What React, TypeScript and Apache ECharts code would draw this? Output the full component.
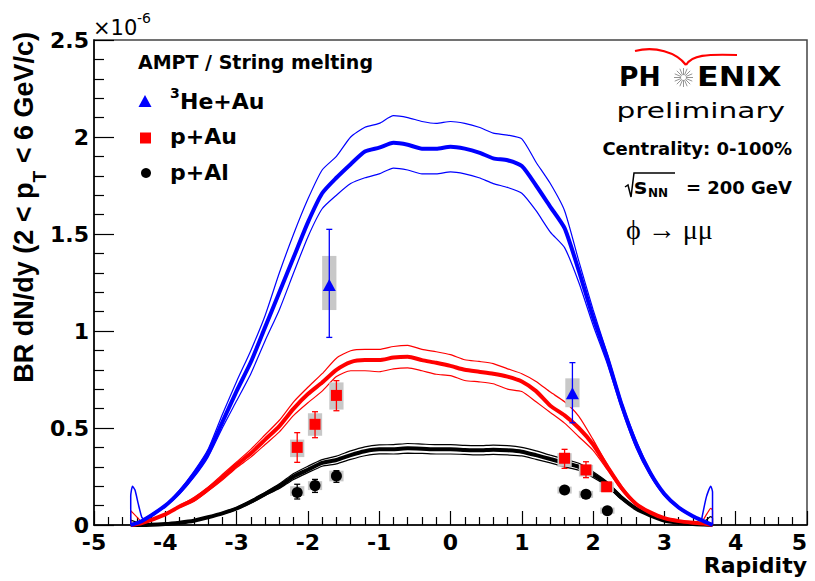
import React, { useEffect, useRef } from 'react';
import * as echarts from 'echarts';

// Rapidity grid of the AMPT model curves
const RAPIDITY = [-4.485, -4.33,
  -4.0, -3.8, -3.6, -3.4, -3.2, -3.0, -2.8, -2.6, -2.4, -2.2,
  -2.0, -1.8, -1.6, -1.4, -1.2, -1.0, -0.8, -0.6, -0.4, -0.2,
  0.0, 0.2, 0.4, 0.6, 0.8, 1.0, 1.2, 1.4, 1.6, 1.8,
  2.0, 2.2, 2.4, 2.6, 2.8, 3.0, 3.2, 3.4,
  3.55, 3.675];

// Values in units of 1e-6
const HE_CENTRAL = [0, 0.02,
  0.10, 0.17, 0.26, 0.37, 0.53, 0.69, 0.84, 1.02, 1.20, 1.38,
  1.56, 1.71, 1.79, 1.86, 1.925, 1.945, 1.97, 1.96, 1.94, 1.94,
  1.95, 1.94, 1.92, 1.89, 1.88, 1.85, 1.75, 1.64, 1.53, 1.31,
  1.07, 0.86, 0.62, 0.42, 0.27, 0.16, 0.09, 0.045,
  0.02, 0];
const HE_UPPER = [0, 0.025,
  0.105, 0.18, 0.275, 0.39, 0.57, 0.74, 0.90, 1.08, 1.30, 1.50,
  1.68, 1.83, 1.90, 2.00, 2.05, 2.07, 2.11, 2.10, 2.08, 2.07,
  2.08, 2.07, 2.05, 2.02, 2.01, 1.99, 1.87, 1.76, 1.62, 1.36,
  1.11, 0.88, 0.635, 0.44, 0.28, 0.165, 0.095, 0.048,
  0.022, 0];
const HE_LOWER = [0, 0.015,
  0.095, 0.16, 0.245, 0.35, 0.50, 0.64, 0.78, 0.95, 1.11, 1.30,
  1.485, 1.63, 1.70, 1.76, 1.79, 1.81, 1.84, 1.83, 1.81, 1.81,
  1.82, 1.81, 1.79, 1.76, 1.74, 1.71, 1.62, 1.51, 1.43, 1.25,
  1.03, 0.83, 0.60, 0.40, 0.255, 0.15, 0.085, 0.042,
  0.018, 0];

const PAU_CENTRAL = [0, 0.01,
  0.055, 0.095, 0.13, 0.185, 0.245, 0.31, 0.37, 0.44, 0.51, 0.60,
  0.675, 0.735, 0.80, 0.84, 0.85, 0.85, 0.863, 0.867, 0.85, 0.836,
  0.82, 0.80, 0.79, 0.78, 0.765, 0.74, 0.69, 0.615, 0.565, 0.50,
  0.415, 0.30, 0.19, 0.11, 0.065, 0.035, 0.02, 0.012,
  0.008, 0];
const PAU_UPPER = [0, 0.012,
  0.058, 0.10, 0.142, 0.195, 0.26, 0.325, 0.39, 0.465, 0.54, 0.635,
  0.71, 0.78, 0.86, 0.898, 0.905, 0.905, 0.92, 0.926, 0.905, 0.893,
  0.878, 0.852, 0.843, 0.832, 0.805, 0.78, 0.74, 0.685, 0.635, 0.56,
  0.44, 0.31, 0.20, 0.115, 0.068, 0.037, 0.021, 0.013,
  0.009, 0];
const PAU_LOWER = [0, 0.008,
  0.052, 0.09, 0.122, 0.175, 0.232, 0.295, 0.35, 0.415, 0.48, 0.565,
  0.63, 0.69, 0.765, 0.795, 0.795, 0.79, 0.805, 0.81, 0.795, 0.777,
  0.77, 0.745, 0.738, 0.728, 0.70, 0.688, 0.635, 0.58, 0.525, 0.455,
  0.385, 0.285, 0.18, 0.105, 0.06, 0.033, 0.019, 0.011,
  0.007, 0];

const PAL_CENTRAL = [0, 0,
  0.005, 0.012, 0.022, 0.04, 0.06, 0.085, 0.12, 0.16, 0.20, 0.25,
  0.285, 0.32, 0.335, 0.36, 0.38, 0.39, 0.39, 0.395, 0.393, 0.39,
  0.39, 0.387, 0.385, 0.388, 0.385, 0.378, 0.36, 0.34, 0.32, 0.30,
  0.26, 0.21, 0.14, 0.085, 0.05, 0.023, 0.012, 0.005,
  0.002, 0];
const PAL_UPPER = [0, 0,
  0.006, 0.013, 0.024, 0.043, 0.064, 0.09, 0.127, 0.168, 0.212, 0.265,
  0.303, 0.337, 0.355, 0.382, 0.403, 0.413, 0.414, 0.42, 0.417, 0.414,
  0.414, 0.41, 0.409, 0.412, 0.409, 0.40, 0.382, 0.36, 0.34, 0.318,
  0.275, 0.222, 0.148, 0.09, 0.053, 0.025, 0.013, 0.0055,
  0.002, 0];
const PAL_LOWER = [0, 0,
  0.004, 0.011, 0.02, 0.037, 0.056, 0.08, 0.113, 0.152, 0.188, 0.235,
  0.27, 0.303, 0.315, 0.338, 0.357, 0.367, 0.366, 0.37, 0.369, 0.366,
  0.366, 0.364, 0.361, 0.364, 0.361, 0.356, 0.338, 0.32, 0.30, 0.282,
  0.245, 0.198, 0.132, 0.08, 0.047, 0.021, 0.011, 0.0045,
  0.002, 0];

// Edge artefacts of the model bands
const HE_SPIKE_LEFT = [[-4.485, 0], [-4.485, 0.15], [-4.46, 0.2], [-4.425, 0.18], [-4.38, 0.11], [-4.33, 0.04], [-4.3, 0.03]];
const PAU_SPIKE_LEFT = [[-4.485, 0], [-4.485, 0.074], [-4.33, 0.015]];
const PAL_SPIKE_LEFT = [[-4.485, 0], [-4.485, 0.025], [-4.33, 0.005]];
const HE_SPIKE_RIGHT = [[3.52, 0.025], [3.59, 0.146], [3.65, 0.2], [3.675, 0.17], [3.675, 0]];
const PAU_SPIKE_RIGHT = [[3.52, 0.01], [3.6, 0.06], [3.65, 0.086], [3.675, 0.075], [3.675, 0]];
const PAL_SPIKE_RIGHT = [[3.52, 0.003], [3.6, 0.03], [3.65, 0.043], [3.675, 0.035], [3.675, 0]];

// Measured points
const HE_X = [-1.70, 1.71];
const HE_Y = [1.237, 0.679];
const HE_STAT_LO = [0.967, 0.527];
const HE_STAT_HI = [1.524, 0.837];
const HE_SYS_LO = [1.108, 0.607];
const HE_SYS_HI = [1.387, 0.756];

const PAU_X = [-2.15, -1.90, -1.60, 1.60, 1.90, 2.19];
const PAU_Y = [0.40, 0.519, 0.668, 0.344, 0.284, 0.197];
const PAU_STAT_LO = [0.323, 0.45, 0.589, 0.292, 0.244, 0.185];
const PAU_STAT_HI = [0.476, 0.584, 0.744, 0.39, 0.326, 0.21];
const PAU_SYS_LO = [0.35, 0.46, 0.595, 0.30, 0.25, 0.17];
const PAU_SYS_HI = [0.44, 0.576, 0.735, 0.37, 0.31, 0.22];

const PAL_X = [-2.15, -1.90, -1.60, 1.60, 1.90, 2.20];
const PAL_Y = [0.168, 0.203, 0.253, 0.18, 0.158, 0.074];
const PAL_STAT_LO = [0.134, 0.168, 0.22, 0.17, 0.148, 0.066];
const PAL_STAT_HI = [0.21, 0.235, 0.28, 0.19, 0.168, 0.082];
const PAL_SYS_LO = [0.15, 0.18, 0.225, 0.162, 0.14, 0.058];
const PAL_SYS_HI = [0.20, 0.226, 0.28, 0.198, 0.176, 0.09];

const X_TICK_LABELS = ['-5', '-4', '-3', '-2', '-1', '0', '1', '2', '3', '4', '5'];
const Y_TICK_LABELS = ['0', '0.5', '1', '1.5', '2', '2.5'];

const BLUE = '#0000ff';
const RED = '#ff0000';
const BLACK = '#000000';
const FONT = 'DejaVu Sans';

function pairs(xs: number[], ys: number[]) {
  return xs.map((x, i) => [x, ys[i]]);
}

function lineSeries(data: number[][], color: string, width: number, z: number) {
  return {
    type: 'line',
    data,
    showSymbol: false,
    symbol: 'none',
    smooth: 0.2,
    silent: true,
    z,
    lineStyle: { color, width },
    emphasis: { disabled: true },
  };
}

function boxSeries(xs: number[], lo: number[], hi: number[]) {
  return {
    type: 'custom',
    z: 5,
    silent: true,
    encode: { x: 0, y: [1, 2] },
    data: xs.map((x, i) => [x, lo[i], hi[i]]),
    renderItem: (_p: any, api: any) => {
      const x = api.value(0);
      const a = api.coord([x - 0.1, api.value(2)]);
      const b = api.coord([x + 0.1, api.value(1)]);
      return {
        type: 'rect',
        shape: { x: a[0], y: a[1], width: b[0] - a[0], height: b[1] - a[1] },
        style: { fill: '#c8c8c8' },
      };
    },
  };
}

function errSeries(xs: number[], lo: number[], hi: number[], color: string) {
  return {
    type: 'custom',
    z: 6,
    silent: true,
    encode: { x: 0, y: [1, 2] },
    data: xs.map((x, i) => [x, lo[i], hi[i]]),
    renderItem: (_p: any, api: any) => {
      const x = api.value(0);
      const t = api.coord([x, api.value(2)]);
      const b = api.coord([x, api.value(1)]);
      const st = { stroke: color, lineWidth: 1.3 };
      return {
        type: 'group',
        children: [
          { type: 'line', shape: { x1: t[0], y1: t[1], x2: b[0], y2: b[1] }, style: st },
          { type: 'line', shape: { x1: t[0] - 3, y1: t[1], x2: t[0] + 3, y2: t[1] }, style: st },
          { type: 'line', shape: { x1: b[0] - 3, y1: b[1], x2: b[0] + 3, y2: b[1] }, style: st },
        ],
      };
    },
  };
}

function markSeries(xs: number[], ys: number[], symbol: string, size: any, color: string) {
  return {
    type: 'scatter',
    z: 7,
    silent: true,
    symbol,
    symbolSize: size,
    data: pairs(xs, ys),
    itemStyle: { color, opacity: 1 },
    emphasis: { disabled: true },
  };
}

function txt(x: number, y: number, text: string, size: number, o: any = {}) {
  return {
    type: 'text',
    x,
    y,
    silent: true,
    scaleX: o.scaleX || 1,
    style: {
      text,
      fontFamily: o.family || FONT,
      fontSize: size,
      fontWeight: o.weight || 'bold',
      fill: o.fill || '#000',
      align: o.align || 'left',
      verticalAlign: 'middle',
      lineHeight: o.lineHeight,
    },
  };
}

export default function App() {
  const ref = useRef<HTMLDivElement>(null);

  useEffect(() => {
    if (!ref.current) return;
    const chart = echarts.init(ref.current, null, { renderer: 'svg' });

    const starRays: any[] = [];
    for (let i = 0; i < 16; i++) {
      const a = (i * Math.PI) / 8;
      starRays.push({
        type: 'line',
        shape: {
          x1: 683.5 + 2.5 * Math.cos(a), y1: 77.5 + 2.5 * Math.sin(a),
          x2: 683.5 + 9.5 * Math.cos(a), y2: 77.5 + 9.5 * Math.sin(a),
        },
        style: { stroke: '#888', lineWidth: 0.9 },
      });
    }

    const axisCommon = {
      axisLine: { onZero: false, lineStyle: { color: '#000', width: 1.5 } },
      splitLine: { show: false },
      minorSplitLine: { show: false },
    };

    const option: any = {
      animation: false,
      backgroundColor: '#ffffff',
      grid: {
        left: 94, right: 8, top: 40, bottom: 56,
        show: true, borderColor: '#444', borderWidth: 1.5,
        outerBoundsMode: 'none',
      },
      xAxis: {
        type: 'value', min: -5, max: 5, interval: 1,
        ...axisCommon,
        axisTick: { inside: true, length: 14, lineStyle: { color: '#000', width: 1.2 } },
        minorTick: { show: true, splitNumber: 5, length: 8, lineStyle: { color: '#000', width: 1.2 } },
        axisLabel: {
          fontFamily: FONT, fontWeight: 'bold', fontSize: 22, color: '#000', margin: 9,
          lineHeight: 16,
          alignMaxLabel: 'right',
          formatter: (v: number) => X_TICK_LABELS[Math.round(v + 5)] ?? String(v),
        },
      },
      yAxis: {
        type: 'value', min: 0, max: 2.5, interval: 0.5,
        ...axisCommon,
        axisTick: { inside: true, length: 20, lineStyle: { color: '#000', width: 1.2 } },
        minorTick: { show: true, splitNumber: 5, length: 10, lineStyle: { color: '#000', width: 1.2 } },
        axisLabel: {
          fontFamily: FONT, fontWeight: 'bold', fontSize: 22, color: '#000', margin: 5,
          lineHeight: 14,
          formatter: (v: number) => Y_TICK_LABELS[Math.round(v * 2)] ?? String(v),
        },
      },
      series: [
        lineSeries(pairs(RAPIDITY, PAL_UPPER), BLACK, 1.2, 2),
        lineSeries(pairs(RAPIDITY, PAL_LOWER), BLACK, 1.2, 2),
        lineSeries(pairs(RAPIDITY, PAL_CENTRAL), BLACK, 4, 2),
        lineSeries(PAL_SPIKE_LEFT, BLACK, 1.2, 2),
        lineSeries(PAL_SPIKE_RIGHT, BLACK, 1.2, 2),
        lineSeries(pairs(RAPIDITY, PAU_UPPER), RED, 1.2, 3),
        lineSeries(pairs(RAPIDITY, PAU_LOWER), RED, 1.2, 3),
        lineSeries(pairs(RAPIDITY, PAU_CENTRAL), RED, 4, 3),
        lineSeries(PAU_SPIKE_LEFT, RED, 1.2, 3),
        lineSeries(PAU_SPIKE_RIGHT, RED, 1.2, 3),
        lineSeries(pairs(RAPIDITY, HE_UPPER), BLUE, 1.2, 4),
        lineSeries(pairs(RAPIDITY, HE_LOWER), BLUE, 1.2, 4),
        lineSeries(pairs(RAPIDITY, HE_CENTRAL), BLUE, 4, 4),
        lineSeries(HE_SPIKE_LEFT, BLUE, 1.5, 4),
        lineSeries(HE_SPIKE_RIGHT, BLUE, 1.5, 4),
        boxSeries(PAL_X, PAL_SYS_LO, PAL_SYS_HI),
        boxSeries(PAU_X, PAU_SYS_LO, PAU_SYS_HI),
        boxSeries(HE_X, HE_SYS_LO, HE_SYS_HI),
        errSeries(PAL_X, PAL_STAT_LO, PAL_STAT_HI, BLACK),
        errSeries(PAU_X, PAU_STAT_LO, PAU_STAT_HI, RED),
        errSeries(HE_X, HE_STAT_LO, HE_STAT_HI, BLUE),
        markSeries(PAL_X, PAL_Y, 'circle', 11, BLACK),
        markSeries(PAU_X, PAU_Y, 'rect', 11, RED),
        markSeries(HE_X, HE_Y, 'triangle', [13, 12], BLUE),
      ],
      graphic: [
        // exponent
        txt(93, 27.5, '\u00d710', 21, { weight: 'normal' }),
        txt(137, 18, '-6', 14, { weight: 'normal' }),
        // y title
        {
          type: 'text', x: 10.5, y: 32, rotation: Math.PI / 2, silent: true,
          style: {
            text: '{n|BR dN/dy (2 < p}{s|T}{n| < 6 GeV/c)}',
            align: 'right', verticalAlign: 'top', fill: '#000',
            rich: {
              n: { fontFamily: 'Liberation Sans', fontWeight: 'bold', fontSize: 27, lineHeight: 30, verticalAlign: 'top', fill: '#000' },
              s: { fontFamily: 'Liberation Sans', fontWeight: 'bold', fontSize: 19, lineHeight: 38, verticalAlign: 'bottom', fill: '#000' },
            },
          },
        },
        // x title
        txt(807, 565, 'Rapidity', 22, { align: 'right', lineHeight: 18 }),
        // legend
        txt(138, 62, 'AMPT / String melting', 19),
        { type: 'polygon', silent: true, shape: { points: [[138.5, 107], [151.5, 107], [145, 95]] }, style: { fill: BLUE } },
        txt(170, 92.5, '3', 14),
        txt(180, 101, 'He+Au', 22),
        { type: 'rect', silent: true, shape: { x: 140, y: 132.5, width: 11, height: 11 }, style: { fill: RED } },
        txt(170, 136, 'p+Au', 22),
        { type: 'circle', silent: true, shape: { cx: 146, cy: 173, r: 5 }, style: { fill: BLACK } },
        txt(170, 172.5, 'p+Al', 22),
        // PHENIX logo
        { type: 'bezierCurve', silent: true, shape: { x1: 635, y1: 51, cpx1: 655, cpy1: 46, cpx2: 676, cpy2: 52, x2: 686, y2: 65 }, style: { stroke: RED, lineWidth: 2.2, fill: null } },
        { type: 'bezierCurve', silent: true, shape: { x1: 686, y1: 65, cpx1: 692, cpy1: 55, cpx2: 706, cpy2: 54, x2: 737, y2: 55 }, style: { stroke: RED, lineWidth: 2.2, fill: null } },
        txt(619, 77.5, 'PH', 26, { scaleX: 1.02 }),
        { type: 'group', silent: true, children: starRays },
        txt(697, 77.5, 'ENIX', 26, { scaleX: 1.22 }),
        txt(616.5, 111, 'preliminary', 21, { weight: 'normal', scaleX: 1.41 }),
        txt(792, 148, 'Centrality: 0-100%', 18, { align: 'right' }),
        { type: 'polyline', silent: true, shape: { points: [[625, 187], [628, 185], [631, 197], [634, 173], [675, 173]] }, style: { stroke: '#000', lineWidth: 1.5, fill: null } },
        txt(634, 186, 's', 22),
        txt(648, 193, 'NN', 12),
        txt(792, 187, '= 200 GeV', 18, { align: 'right' }),
        txt(626, 229, '\u03d5 \u2192 \u03bc\u03bc', 28, { weight: 'normal', family: 'Liberation Serif' }),
      ],
    };

    chart.setOption(option);
    return () => chart.dispose();
  }, []);

  return (
    <div
      ref={ref}
      style={{ position: 'absolute', left: 0, top: 0, width: '815px', height: '581px', background: '#fff' }}
    />
  );
}
